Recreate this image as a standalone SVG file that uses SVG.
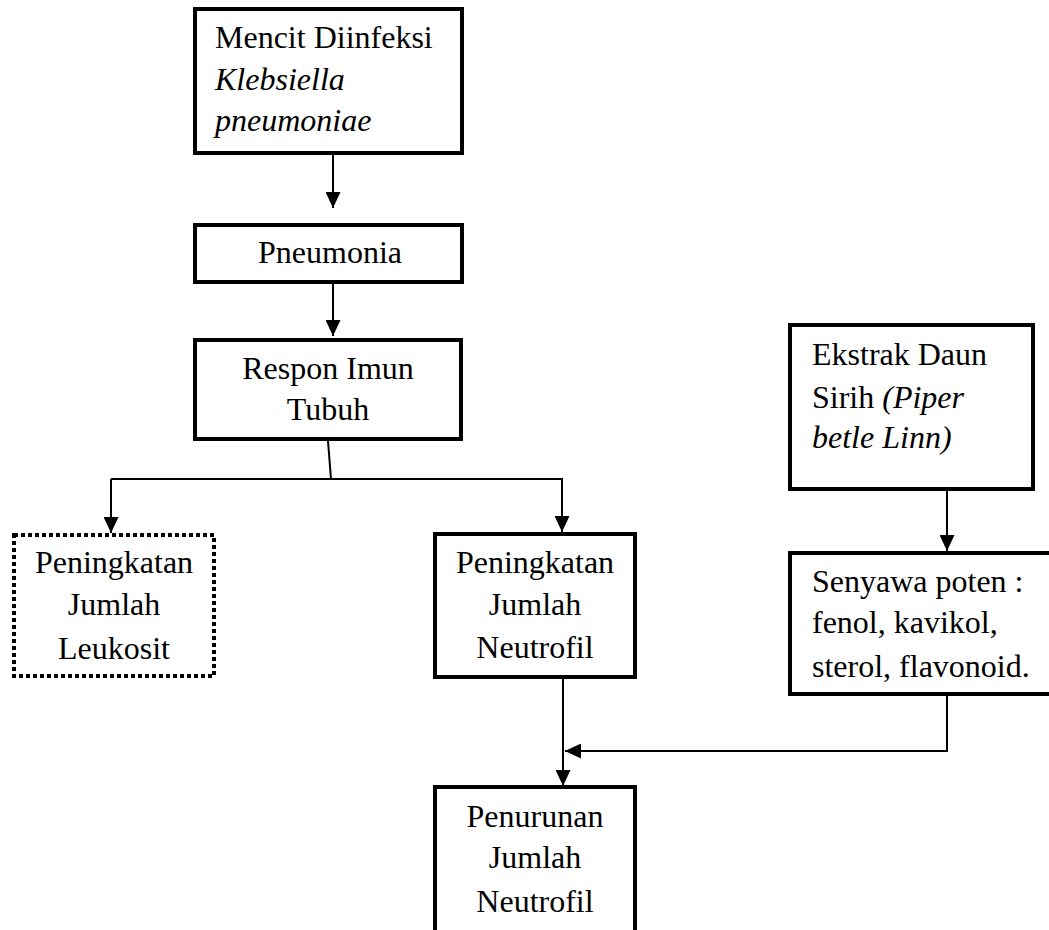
<svg xmlns="http://www.w3.org/2000/svg" width="1049" height="930" viewBox="0 0 1049 930">
<style>
.box{fill:#fff;stroke:#000;stroke-width:4}
.dot{fill:#fff;stroke:#000;stroke-width:4;stroke-dasharray:4 3}
.t{font-family:"Liberation Serif","Times New Roman",serif;font-size:32px;fill:#000}
.c{text-anchor:middle}
.i{font-style:italic}
.ln{fill:none;stroke:#000;stroke-width:2}
</style>
<defs>
<marker id="ah" markerUnits="userSpaceOnUse" markerWidth="17" markerHeight="15" refX="16" refY="7.5" orient="auto">
<path d="M0,0 L16,7.5 L0,15 Z" fill="#000"/>
</marker>
</defs>
<rect width="1049" height="930" fill="#fff"/>
<g id="connectors">
<line class="ln" x1="333" y1="155" x2="333" y2="208" marker-end="url(#ah)"/>
<line class="ln" x1="333" y1="284" x2="333" y2="336" marker-end="url(#ah)"/>
<polyline class="ln" points="328,441 331,479"/>
<polyline class="ln" points="111,479 562,479 562,532" marker-end="url(#ah)"/>
<line class="ln" x1="111" y1="479" x2="111" y2="533" marker-end="url(#ah)"/>
<line class="ln" x1="947" y1="491" x2="947" y2="551" marker-end="url(#ah)"/>
<polyline class="ln" points="947,696 947,751 565,751" marker-end="url(#ah)"/>
<line class="ln" x1="563" y1="679" x2="563" y2="786" marker-end="url(#ah)"/>
</g>
<g id="mencit">
<rect class="box" x="195" y="9" width="267" height="144"/>
<text class="t" x="215" y="48">Mencit Diinfeksi</text>
<text class="t i" x="215" y="90">Klebsiella</text>
<text class="t i" x="215" y="131">pneumoniae</text>
</g>
<g id="pneumonia">
<rect class="box" x="195" y="225" width="267" height="57"/>
<text class="t c" x="330" y="263">Pneumonia</text>
</g>
<g id="respon">
<rect class="box" x="195" y="340" width="266" height="99"/>
<text class="t c" x="328" y="379">Respon Imun</text>
<text class="t c" x="328" y="420">Tubuh</text>
</g>
<g id="leukosit">
<rect class="dot" x="14" y="535" width="200" height="141"/>
<text class="t c" x="114" y="573">Peningkatan</text>
<text class="t c" x="114" y="615">Jumlah</text>
<text class="t c" x="114" y="659">Leukosit</text>
</g>
<g id="neutrofil-up">
<rect class="box" x="435" y="534" width="200" height="143"/>
<text class="t c" x="535" y="573">Peningkatan</text>
<text class="t c" x="535" y="615">Jumlah</text>
<text class="t c" x="535" y="658">Neutrofil</text>
</g>
<g id="neutrofil-down">
<rect class="box" x="435" y="787" width="200" height="160"/>
<text class="t c" x="535" y="827">Penurunan</text>
<text class="t c" x="535" y="868">Jumlah</text>
<text class="t c" x="535" y="912">Neutrofil</text>
</g>
<g id="ekstrak">
<rect class="box" x="790" y="325" width="243" height="164"/>
<text class="t" x="812" y="365">Ekstrak Daun</text>
<text class="t" x="812" y="408">Sirih <tspan class="i">(Piper</tspan></text>
<text class="t i" x="812" y="448">betle Linn)</text>
</g>
<g id="senyawa">
<rect class="box" x="790" y="553" width="300" height="141"/>
<text class="t" x="812" y="592">Senyawa poten :</text>
<text class="t" x="812" y="633">fenol, kavikol,</text>
<text class="t" x="812" y="677">sterol, flavonoid.</text>
</g>
</svg>
